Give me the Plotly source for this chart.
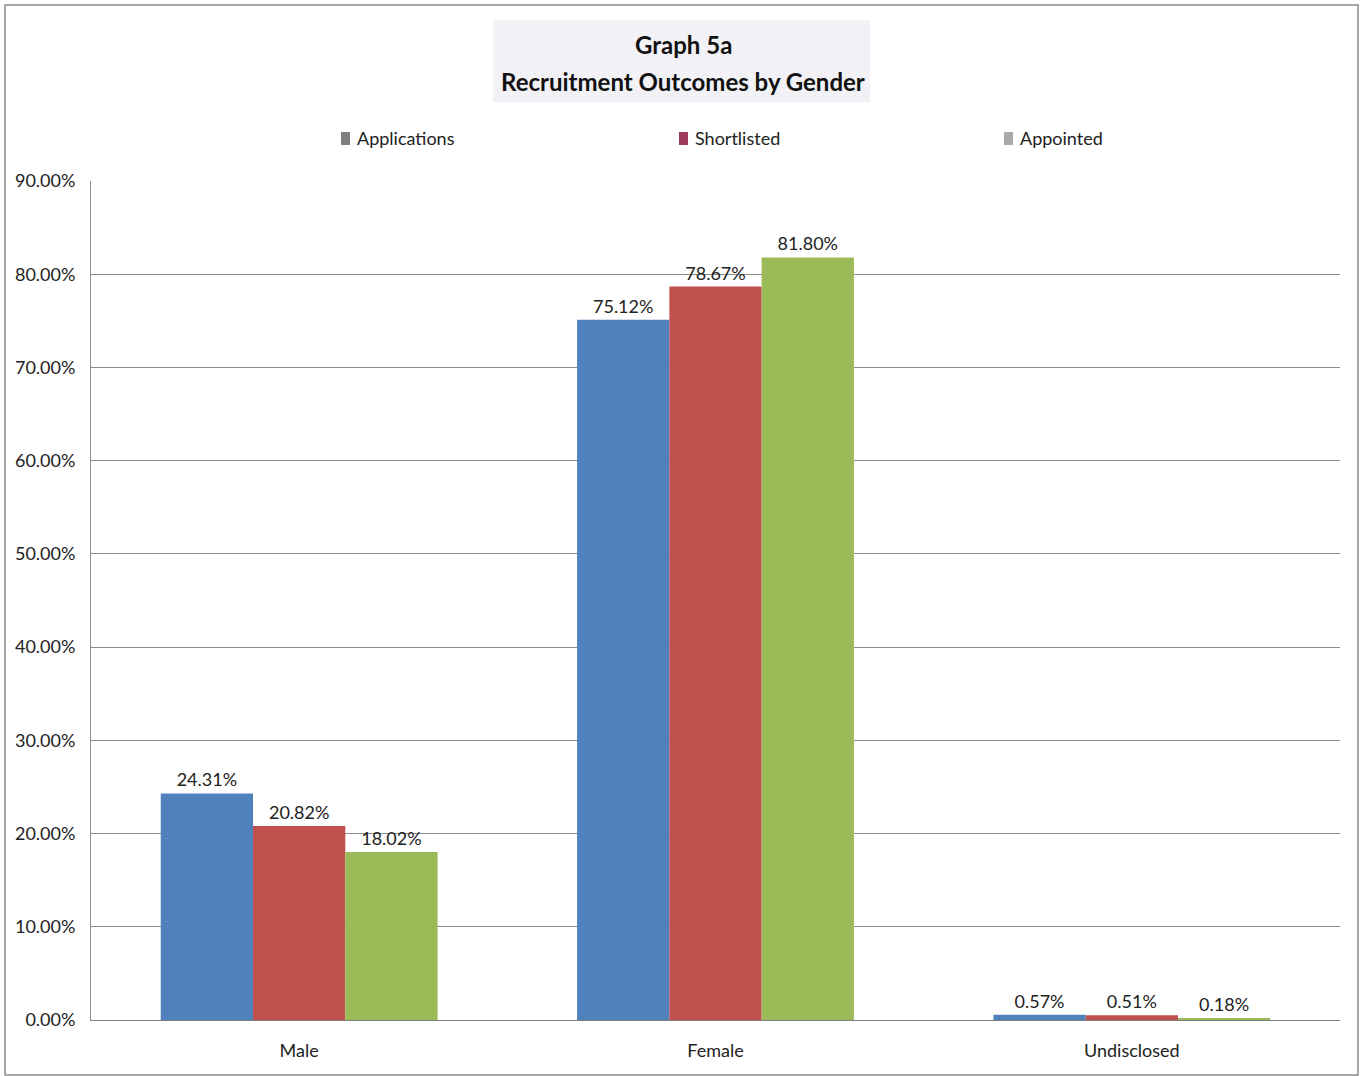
import plotly.graph_objects as go

categories = ["Male", "Female", "Undisclosed"]
applications = [24.31, 75.12, 0.57]
shortlisted = [20.82, 78.67, 0.51]
appointed = [18.02, 81.80, 0.18]
series_names = ["Applications", "Shortlisted", "Appointed"]
y_ticks = [0, 10, 20, 30, 40, 50, 60, 70, 80, 90]
y_tick_labels = [f"{v:.2f}%" for v in y_ticks]

bar_colors = ["#4F81BD", "#C0504D", "#9BBB59"]
legend_colors = ["#7f7f7f", "#9e3a5a", "#a9a9a9"]
legend_px = [341, 679, 1004]

FONT = "Lato, Open Sans, Liberation Sans, sans-serif"

W, H = 1360, 1076
L, R, T, B = 91, 20, 181, 56
PW = W - L - R
PH = H - T - B


def px_x(x):
    return (x - L) / PW


def px_y(y):
    return (H - B - y) / PH


fig = go.Figure()
for name, vals, col in zip(series_names, [applications, shortlisted, appointed], bar_colors):
    fig.add_trace(go.Bar(
        x=categories, y=vals, name=name, marker=dict(color=col, line=dict(width=0)),
        text=[f"{v:.2f}%" for v in vals], textposition="outside",
        textfont=dict(family=FONT, size=18, color="#222"), cliponaxis=False,
        showlegend=False,
    ))

shapes = [
    dict(type="rect", xref="paper", yref="paper",
         x0=px_x(493), x1=px_x(870), y0=px_y(102), y1=px_y(20),
         fillcolor="#f2f2f6", line=dict(width=0), layer="below"),
    dict(type="rect", xref="paper", yref="paper",
         x0=px_x(5), x1=px_x(1358), y0=px_y(1075), y1=px_y(5),
         fillcolor="rgba(0,0,0,0)", line=dict(color="#8a8a8a", width=1.5)),
]
annotations = [
    dict(text="<b>Graph 5a</b>", xref="paper", yref="paper", x=px_x(683), y=px_y(44),
         xanchor="center", yanchor="middle", showarrow=False,
         font=dict(family=FONT, size=24, color="#111")),
    dict(text="<b>Recruitment Outcomes by Gender</b>", xref="paper", yref="paper",
         x=px_x(683), y=px_y(81), xanchor="center", yanchor="middle", showarrow=False,
         font=dict(family=FONT, size=24, color="#111")),
]
for name, col, lx in zip(series_names, legend_colors, legend_px):
    shapes.append(dict(type="rect", xref="paper", yref="paper",
                       x0=px_x(lx), x1=px_x(lx + 9), y0=px_y(145), y1=px_y(132),
                       fillcolor=col, line=dict(width=0)))
    annotations.append(dict(text=name, xref="paper", yref="paper", x=px_x(lx + 14),
                            y=px_y(138), xanchor="left", yanchor="middle", showarrow=False,
                            font=dict(family=FONT, size=18, color="#222")))

fig.update_layout(
    width=W, height=H,
    margin=dict(l=L, r=R, t=T, b=B, pad=0),
    paper_bgcolor="white", plot_bgcolor="white",
    barmode="group", bargap=0.335, bargroupgap=0,
    font=dict(family=FONT, size=18, color="#222"),
    showlegend=False,
    xaxis=dict(
        showgrid=False, showline=True, linecolor="#7f7f7f", linewidth=1,
        ticks="", ticklabelstandoff=14, tickfont=dict(family=FONT, size=18),
    ),
    yaxis=dict(
        range=[0, 90], tickvals=y_ticks, ticktext=y_tick_labels,
        showgrid=True, gridcolor="#8c8c8c", gridwidth=1,
        showline=True, linecolor="#8c8c8c", linewidth=1,
        zeroline=False, ticks="", ticklabelstandoff=11,
        tickfont=dict(family=FONT, size=18),
    ),
    shapes=shapes,
    annotations=annotations,
)

fig.write_html("out.html")
